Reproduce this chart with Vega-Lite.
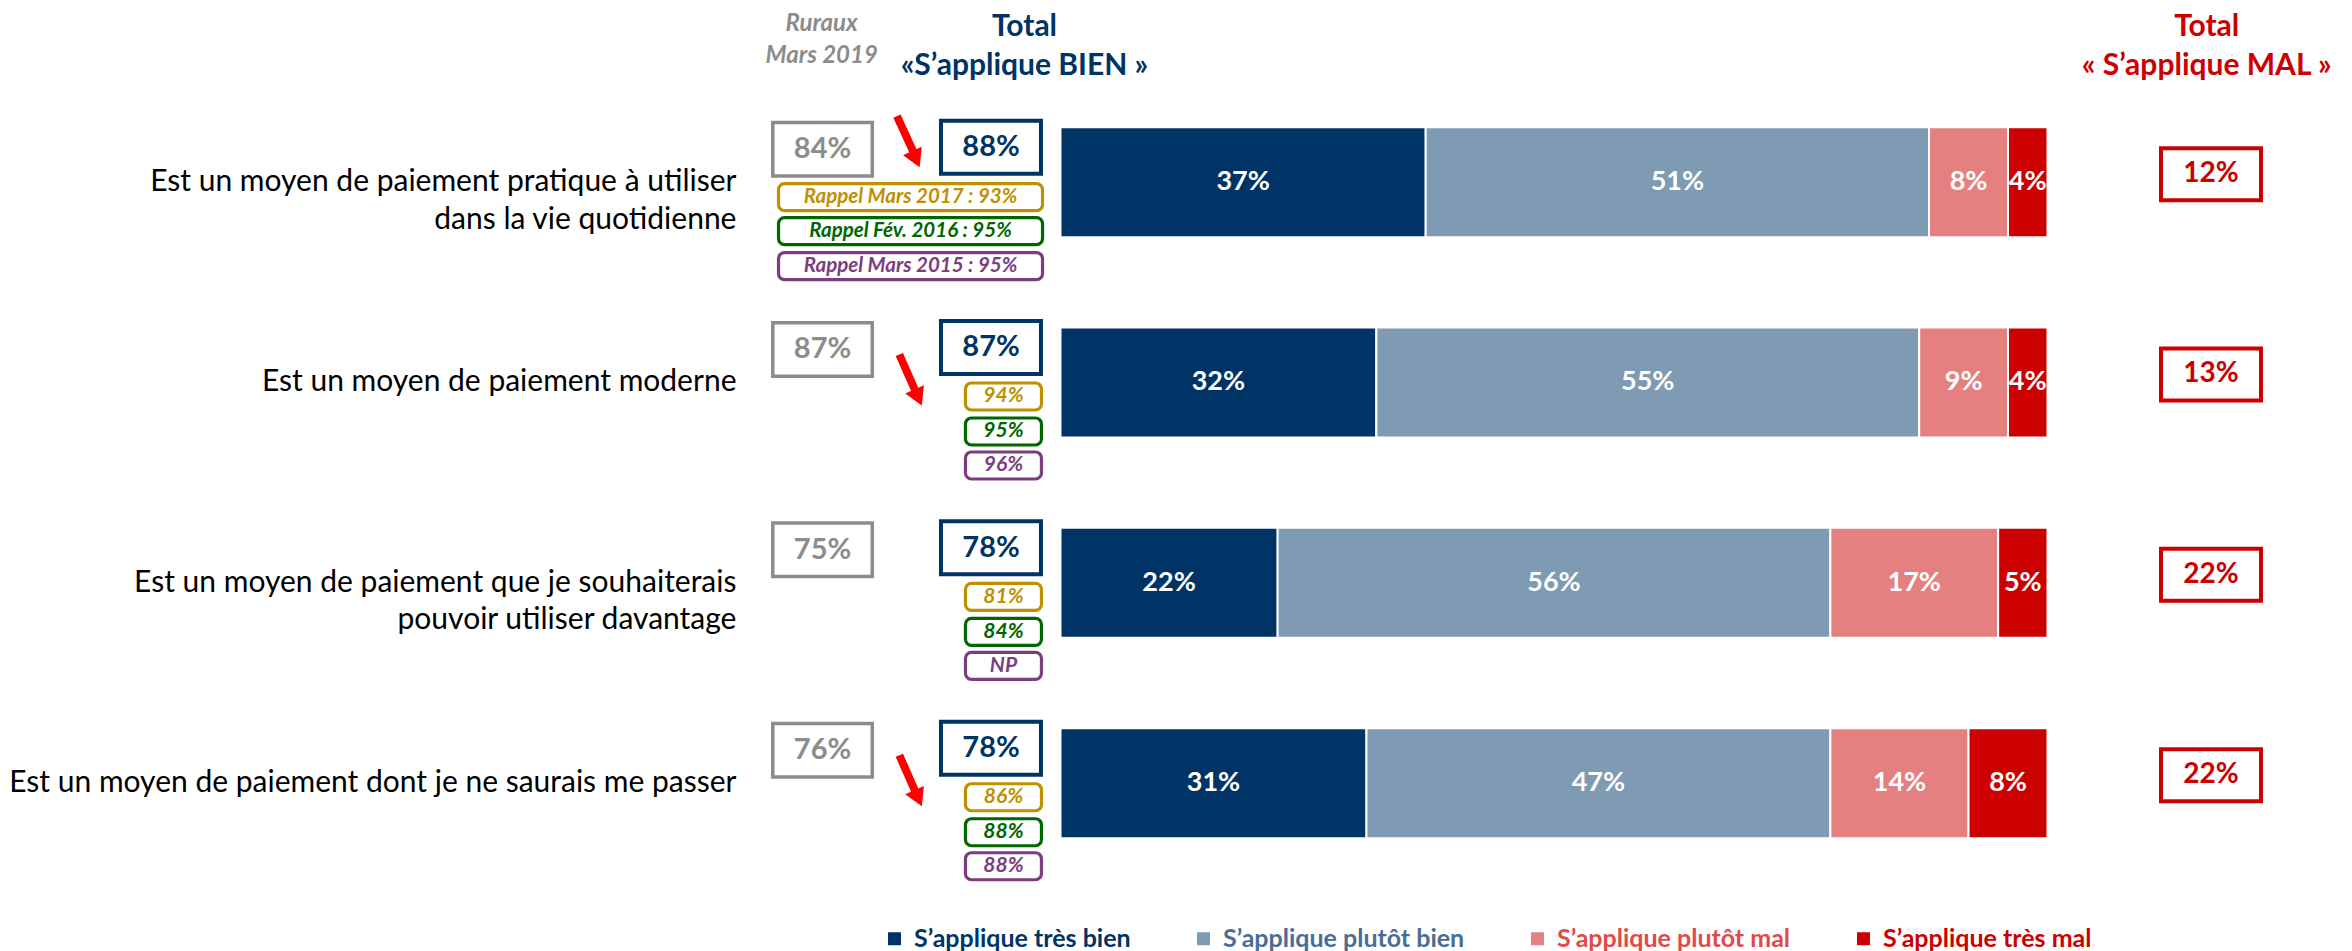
{
  "$schema": "https://vega.github.io/schema/vega-lite/v6.json",
  "width": 2352,
  "height": 951,
  "autosize": {"type": "none"},
  "padding": 0,
  "background": "white",
  "config": {"view": {"stroke": null}, "font": "Lato"},
  "datasets": {
    "bars": [
      {"row": 1, "cat": "S’applique très bien", "order": 1, "v": 0.37},
      {"row": 1, "cat": "S’applique plutôt bien", "order": 2, "v": 0.51},
      {"row": 1, "cat": "S’applique plutôt mal", "order": 3, "v": 0.08},
      {"row": 1, "cat": "S’applique très mal", "order": 4, "v": 0.04},
      {"row": 2, "cat": "S’applique très bien", "order": 1, "v": 0.32},
      {"row": 2, "cat": "S’applique plutôt bien", "order": 2, "v": 0.55},
      {"row": 2, "cat": "S’applique plutôt mal", "order": 3, "v": 0.09},
      {"row": 2, "cat": "S’applique très mal", "order": 4, "v": 0.04},
      {"row": 3, "cat": "S’applique très bien", "order": 1, "v": 0.22},
      {"row": 3, "cat": "S’applique plutôt bien", "order": 2, "v": 0.56},
      {"row": 3, "cat": "S’applique plutôt mal", "order": 3, "v": 0.17},
      {"row": 3, "cat": "S’applique très mal", "order": 4, "v": 0.05},
      {"row": 4, "cat": "S’applique très bien", "order": 1, "v": 0.31},
      {"row": 4, "cat": "S’applique plutôt bien", "order": 2, "v": 0.47},
      {"row": 4, "cat": "S’applique plutôt mal", "order": 3, "v": 0.14},
      {"row": 4, "cat": "S’applique très mal", "order": 4, "v": 0.08}
    ],
    "questions": [
      {"row": 1, "question": "Est un moyen de paiement pratique à utiliser\ndans la vie quotidienne", "ruraux": 0.84, "bien": 0.88, "mal": 0.12},
      {"row": 2, "question": "Est un moyen de paiement moderne", "ruraux": 0.87, "bien": 0.87, "mal": 0.13},
      {"row": 3, "question": "Est un moyen de paiement que je souhaiterais\npouvoir utiliser davantage", "ruraux": 0.75, "bien": 0.78, "mal": 0.22},
      {"row": 4, "question": "Est un moyen de paiement dont je ne saurais me passer", "ruraux": 0.76, "bien": 0.78, "mal": 0.22}
    ],
    "rappels": [
      {"row": 1, "wave": "Mars 2017", "label": "Rappel Mars 2017 : 93%"},
      {"row": 1, "wave": "Fév. 2016", "label": "Rappel Fév. 2016 : 95%"},
      {"row": 1, "wave": "Mars 2015", "label": "Rappel Mars 2015 : 95%"},
      {"row": 2, "wave": "Mars 2017", "label": "94%"},
      {"row": 2, "wave": "Fév. 2016", "label": "95%"},
      {"row": 2, "wave": "Mars 2015", "label": "96%"},
      {"row": 3, "wave": "Mars 2017", "label": "81%"},
      {"row": 3, "wave": "Fév. 2016", "label": "84%"},
      {"row": 3, "wave": "Mars 2015", "label": "NP"},
      {"row": 4, "wave": "Mars 2017", "label": "86%"},
      {"row": 4, "wave": "Fév. 2016", "label": "88%"},
      {"row": 4, "wave": "Mars 2015", "label": "88%"}
    ],
    "arrows": [
      {"row": 1, "trend": "baisse"},
      {"row": 2, "trend": "baisse"},
      {"row": 4, "trend": "baisse"}
    ],
    "headers": [
      {"col": "ruraux", "title": "Ruraux\nMars 2019"},
      {"col": "bien", "title": "Total\n«S’applique BIEN »"},
      {"col": "mal", "title": "Total\n« S’applique MAL »"}
    ]
  },
  "layer": [
    {
      "data": {"name": "bars"},
      "transform": [
        {"stack": "v", "groupby": ["row"], "sort": [{"field": "order", "order": "ascending"}], "as": ["x0", "x1"]}
      ],
      "mark": {"type": "bar", "size": 110, "stroke": "white", "strokeWidth": 2},
      "encoding": {
        "x": {"field": "x0", "type": "quantitative", "scale": {"domain": [-1.07447, 1.30851], "nice": false, "zero": false}, "axis": null},
        "x2": {"field": "x1"},
        "y": {"field": "row", "type": "quantitative", "scale": {"domain": [0.116, 4.8123], "reverse": true, "nice": false, "zero": false}, "axis": null},
        "color": {
          "field": "cat",
          "type": "nominal",
          "sort": null,
          "scale": {
            "domain": ["S’applique très bien", "S’applique plutôt bien", "S’applique plutôt mal", "S’applique très mal"],
            "range": ["#003366", "#7f9ab3", "#e48080", "#cc0000"]
          },
          "legend": {
            "title": null,
            "orient": "none",
            "legendX": 882,
            "legendY": 926,
            "direction": "horizontal",
            "padding": 0,
            "symbolType": "square",
            "symbolSize": 169,
            "symbolStrokeWidth": 0,
            "labelFont": "Lato",
            "labelFontSize": 25,
            "labelFontWeight": "bold",
            "labelOffset": 7,
            "labelLimit": 500,
            "columnPadding": 60,
            "labelColor": {"expr": "datum.value == 'S’applique très bien' ? '#003366' : datum.value == 'S’applique plutôt bien' ? '#4a6d94' : datum.value == 'S’applique plutôt mal' ? '#e04a4a' : '#cc0000'"}
          }
        }
      }
    },
    {
      "data": {"name": "bars"},
      "transform": [
        {"stack": "v", "groupby": ["row"], "sort": [{"field": "order", "order": "ascending"}], "as": ["x0", "x1"]},
        {"fold": ["x0", "x1"], "as": ["k", "xv"]},
        {"aggregate": [{"op": "mean", "field": "xv", "as": "mid"}], "groupby": ["row", "cat", "v"]}
      ],
      "mark": {"type": "text", "color": "white", "fontWeight": "bold", "fontSize": 27, "baseline": "middle", "align": "center", "font": "Lato"},
      "encoding": {
        "x": {"field": "mid", "type": "quantitative"},
        "y": {"field": "row", "type": "quantitative"},
        "text": {"field": "v", "type": "quantitative", "format": ".0%"}
      }
    },
    {
      "data": {"name": "questions"},
      "mark": {"type": "text", "align": "right", "baseline": "middle", "fontSize": 30, "lineHeight": 37.5, "lineBreak": "\n", "color": "#000000", "font": "Lato"},
      "encoding": {
        "x": {"datum": -0.3283, "type": "quantitative"},
        "y": {"field": "row", "type": "quantitative"},
        "text": {"field": "question", "type": "nominal"}
      }
    },
    {
      "data": {"name": "questions"},
      "mark": {"type": "bar", "size": 53.5, "yOffset": -33, "fill": "white", "stroke": "#8c8c8c", "strokeWidth": 3.5},
      "encoding": {
        "x": {"datum": -0.2915, "type": "quantitative"},
        "x2": {"datum": -0.1907},
        "y": {"field": "row", "type": "quantitative"}
      }
    },
    {
      "data": {"name": "questions"},
      "mark": {"type": "text", "yOffset": -33, "fontSize": 29, "fontWeight": "bold", "color": "#8c8c8c", "baseline": "middle", "align": "center", "font": "Lato"},
      "encoding": {
        "x": {"datum": -0.2411, "type": "quantitative"},
        "y": {"field": "row", "type": "quantitative"},
        "text": {"field": "ruraux", "type": "quantitative", "format": ".0%"}
      }
    },
    {
      "data": {"name": "questions"},
      "mark": {"type": "bar", "size": 53, "yOffset": -35, "fill": "white", "stroke": "#003366", "strokeWidth": 4},
      "encoding": {
        "x": {"datum": -0.1211, "type": "quantitative"},
        "x2": {"datum": -0.0198},
        "y": {"field": "row", "type": "quantitative"}
      }
    },
    {
      "data": {"name": "questions"},
      "mark": {"type": "text", "yOffset": -35, "fontSize": 29, "fontWeight": "bold", "color": "#003366", "baseline": "middle", "align": "center", "font": "Lato"},
      "encoding": {
        "x": {"datum": -0.0704, "type": "quantitative"},
        "y": {"field": "row", "type": "quantitative"},
        "text": {"field": "bien", "type": "quantitative", "format": ".0%"}
      }
    },
    {
      "data": {"name": "questions"},
      "mark": {"type": "bar", "size": 52, "yOffset": -8, "fill": "white", "stroke": "#cc0000", "strokeWidth": 4},
      "encoding": {
        "x": {"datum": 1.115, "type": "quantitative"},
        "x2": {"datum": 1.2163},
        "y": {"field": "row", "type": "quantitative"}
      }
    },
    {
      "data": {"name": "questions"},
      "mark": {"type": "text", "yOffset": -8, "fontSize": 28, "fontWeight": "bold", "color": "#cc0000", "baseline": "middle", "align": "center", "font": "Lato"},
      "encoding": {
        "x": {"datum": 1.1657, "type": "quantitative"},
        "y": {"field": "row", "type": "quantitative"},
        "text": {"field": "mal", "type": "quantitative", "format": ".0%"}
      }
    },
    {
      "data": {"name": "rappels"},
      "transform": [{"filter": "datum.row == 1 && datum.wave == 'Mars 2017'"}],
      "layer": [
        {"mark": {"type": "bar", "size": 27, "yOffset": 15, "fill": "white", "stroke": "#bf9000", "strokeWidth": 3.2, "cornerRadius": 6},
         "encoding": {"x": {"datum": -0.2857, "type": "quantitative"}, "x2": {"datum": -0.0182}, "y": {"field": "row", "type": "quantitative"}}},
        {"mark": {"type": "text", "yOffset": 15, "fontSize": 20.5, "fontWeight": "bold", "fontStyle": "italic", "color": "#bf9000", "baseline": "middle", "align": "center", "font": "Lato"},
         "encoding": {"x": {"datum": -0.152, "type": "quantitative"}, "y": {"field": "row", "type": "quantitative"}, "text": {"field": "label", "type": "nominal"}}}
      ]
    },
    {
      "data": {"name": "rappels"},
      "transform": [{"filter": "datum.row == 1 && datum.wave == 'Fév. 2016'"}],
      "layer": [
        {"mark": {"type": "bar", "size": 27, "yOffset": 49, "fill": "white", "stroke": "#006600", "strokeWidth": 3.2, "cornerRadius": 6},
         "encoding": {"x": {"datum": -0.2857, "type": "quantitative"}, "x2": {"datum": -0.0182}, "y": {"field": "row", "type": "quantitative"}}},
        {"mark": {"type": "text", "yOffset": 49, "fontSize": 20.5, "fontWeight": "bold", "fontStyle": "italic", "color": "#006600", "baseline": "middle", "align": "center", "font": "Lato"},
         "encoding": {"x": {"datum": -0.152, "type": "quantitative"}, "y": {"field": "row", "type": "quantitative"}, "text": {"field": "label", "type": "nominal"}}}
      ]
    },
    {
      "data": {"name": "rappels"},
      "transform": [{"filter": "datum.row == 1 && datum.wave == 'Mars 2015'"}],
      "layer": [
        {"mark": {"type": "bar", "size": 27, "yOffset": 84, "fill": "white", "stroke": "#7a3e80", "strokeWidth": 3.2, "cornerRadius": 6},
         "encoding": {"x": {"datum": -0.2857, "type": "quantitative"}, "x2": {"datum": -0.0182}, "y": {"field": "row", "type": "quantitative"}}},
        {"mark": {"type": "text", "yOffset": 84, "fontSize": 20.5, "fontWeight": "bold", "fontStyle": "italic", "color": "#7a3e80", "baseline": "middle", "align": "center", "font": "Lato"},
         "encoding": {"x": {"datum": -0.152, "type": "quantitative"}, "y": {"field": "row", "type": "quantitative"}, "text": {"field": "label", "type": "nominal"}}}
      ]
    },
    {
      "data": {"name": "rappels"},
      "transform": [{"filter": "datum.row > 1 && datum.wave == 'Mars 2017'"}],
      "layer": [
        {"mark": {"type": "bar", "size": 27, "yOffset": 14, "fill": "white", "stroke": "#bf9000", "strokeWidth": 3.2, "cornerRadius": 6},
         "encoding": {"x": {"datum": -0.0963, "type": "quantitative"}, "x2": {"datum": -0.0193}, "y": {"field": "row", "type": "quantitative"}}},
        {"mark": {"type": "text", "yOffset": 14, "fontSize": 21, "fontWeight": "bold", "fontStyle": "italic", "color": "#bf9000", "baseline": "middle", "align": "center", "font": "Lato"},
         "encoding": {"x": {"datum": -0.0578, "type": "quantitative"}, "y": {"field": "row", "type": "quantitative"}, "text": {"field": "label", "type": "nominal"}}}
      ]
    },
    {
      "data": {"name": "rappels"},
      "transform": [{"filter": "datum.row > 1 && datum.wave == 'Fév. 2016'"}],
      "layer": [
        {"mark": {"type": "bar", "size": 27, "yOffset": 49, "fill": "white", "stroke": "#006600", "strokeWidth": 3.2, "cornerRadius": 6},
         "encoding": {"x": {"datum": -0.0963, "type": "quantitative"}, "x2": {"datum": -0.0193}, "y": {"field": "row", "type": "quantitative"}}},
        {"mark": {"type": "text", "yOffset": 49, "fontSize": 21, "fontWeight": "bold", "fontStyle": "italic", "color": "#006600", "baseline": "middle", "align": "center", "font": "Lato"},
         "encoding": {"x": {"datum": -0.0578, "type": "quantitative"}, "y": {"field": "row", "type": "quantitative"}, "text": {"field": "label", "type": "nominal"}}}
      ]
    },
    {
      "data": {"name": "rappels"},
      "transform": [{"filter": "datum.row > 1 && datum.wave == 'Mars 2015'"}],
      "layer": [
        {"mark": {"type": "bar", "size": 27, "yOffset": 83, "fill": "white", "stroke": "#7a3e80", "strokeWidth": 3.2, "cornerRadius": 6},
         "encoding": {"x": {"datum": -0.0963, "type": "quantitative"}, "x2": {"datum": -0.0193}, "y": {"field": "row", "type": "quantitative"}}},
        {"mark": {"type": "text", "yOffset": 83, "fontSize": 21, "fontWeight": "bold", "fontStyle": "italic", "color": "#7a3e80", "baseline": "middle", "align": "center", "font": "Lato"},
         "encoding": {"x": {"datum": -0.0578, "type": "quantitative"}, "y": {"field": "row", "type": "quantitative"}, "text": {"field": "label", "type": "nominal"}}}
      ]
    },
    {
      "data": {"name": "arrows"},
      "transform": [{"filter": "datum.row == 1"}],
      "layer": [
        {"mark": {"type": "rule", "color": "#ff0000", "strokeWidth": 8, "strokeCap": "butt", "yOffset": -66, "y2Offset": -26},
         "encoding": {"x": {"datum": -0.1657, "type": "quantitative"}, "x2": {"datum": -0.1471}, "y": {"field": "row", "type": "quantitative"}, "y2": {"field": "row"}}},
        {"mark": {"type": "point", "shape": "triangle-down", "filled": true, "opacity": 1, "color": "#ff0000", "size": 420, "angle": 336, "yOffset": -23},
         "encoding": {"x": {"datum": -0.1464, "type": "quantitative"}, "y": {"field": "row", "type": "quantitative"}}}
      ]
    },
    {
      "data": {"name": "arrows"},
      "transform": [{"filter": "datum.row > 1"}],
      "layer": [
        {"mark": {"type": "rule", "color": "#ff0000", "strokeWidth": 8, "strokeCap": "butt", "yOffset": -28, "y2Offset": 13},
         "encoding": {"x": {"datum": -0.1633, "type": "quantitative"}, "x2": {"datum": -0.145}, "y": {"field": "row", "type": "quantitative"}, "y2": {"field": "row"}}},
        {"mark": {"type": "point", "shape": "triangle-down", "filled": true, "opacity": 1, "color": "#ff0000", "size": 420, "angle": 336, "yOffset": 15},
         "encoding": {"x": {"datum": -0.1442, "type": "quantitative"}, "y": {"field": "row", "type": "quantitative"}}}
      ]
    },
    {
      "data": {"name": "headers"},
      "transform": [{"filter": "datum.col == 'ruraux'"}],
      "mark": {"type": "text", "lineBreak": "\n", "lineHeight": 31.6, "fontSize": 24, "fontWeight": "bold", "fontStyle": "italic", "color": "#8c8c8c", "align": "center", "baseline": "alphabetic", "font": "Lato"},
      "encoding": {"x": {"datum": -0.242, "type": "quantitative"}, "y": {"datum": 0.2479, "type": "quantitative"}, "text": {"field": "title", "type": "nominal"}}
    },
    {
      "data": {"name": "headers"},
      "transform": [{"filter": "datum.col == 'bien'"}],
      "mark": {"type": "text", "lineBreak": "\n", "lineHeight": 38.3, "fontSize": 30, "fontWeight": "bold", "color": "#003366", "align": "center", "baseline": "alphabetic", "font": "Lato"},
      "encoding": {"x": {"datum": -0.0365, "type": "quantitative"}, "y": {"datum": 0.2725, "type": "quantitative"}, "text": {"field": "title", "type": "nominal"}}
    },
    {
      "data": {"name": "headers"},
      "transform": [{"filter": "datum.col == 'mal'"}],
      "mark": {"type": "text", "lineBreak": "\n", "lineHeight": 38.3, "fontSize": 30, "fontWeight": "bold", "color": "#cc0000", "align": "center", "baseline": "alphabetic", "font": "Lato"},
      "encoding": {"x": {"datum": 1.1613, "type": "quantitative"}, "y": {"datum": 0.2725, "type": "quantitative"}, "text": {"field": "title", "type": "nominal"}}
    }
  ]
}
